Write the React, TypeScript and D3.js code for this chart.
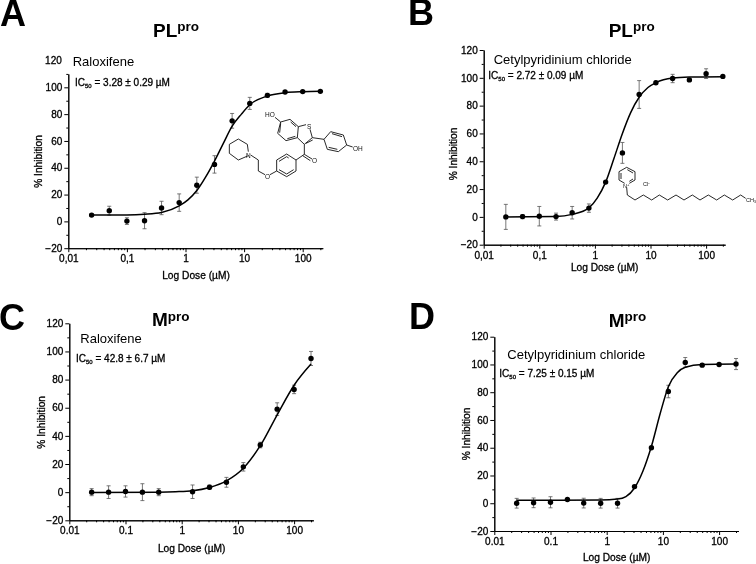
import React, { useEffect, useRef } from "react";
import * as d3 from "d3";

// doses used in the assay (uM)
const doses = [0.025, 0.05, 0.1, 0.2, 0.39, 0.78, 1.56, 3.125, 6.25, 12.5, 25, 50, 100, 200];
const dosesC = [0.025, 0.05, 0.1, 0.2, 0.39, 1.56, 3.125, 6.25, 12.5, 25, 50, 100, 200];

const valuesA = [4.7, 8, 0.2, 0.5, 10, 14, 27, 42.5, 75, 88, 94, 96.5, 96.8, 97];
const errorsA = [1, 3.3, 2.5, 6, 5, 6.5, 6, 6.5, 5.5, 4.5, 1.5, 1, 0.5, 0.5];
const valuesB = [0, 0.2, 0.5, 0.2, 3, 6.3, 25, 46, 88, 96.5, 99.5, 98.5, 103, 101];
const errorsB = [9, 1.5, 7, 2.5, 4.5, 3, 0.5, 7.5, 10, 1, 3, 1, 3.5, 0.5];
const valuesC = [0, 0, 0.5, 0, 0, 0.3, 3.5, 7, 18, 33.5, 59, 73, 95];
const errorsC = [2.5, 4.5, 4, 6, 2.5, 4.8, 1.5, 3.5, 3, 2, 4.5, 3, 5];
const valuesD = [0, 0.3, 0.7, 2.7, 0.1, 0, 0, 12, 40, 80.5, 101.5, 99.5, 100, 100.3];
const errorsD = [3.5, 3.5, 4, 0.5, 3.5, 3.5, 3.5, 1, 0.5, 4.5, 3.5, 1, 0.5, 4];

// fitted curves
const fitDoseA = [0.025, 0.1, 0.2, 0.39, 0.78, 1.1, 1.56, 2.2, 3.125, 4.4, 6.25, 9, 12.5, 25, 50, 100, 200];
const fitA = [4.7, 4.8, 5.3, 6.6, 11.5, 16, 23, 33, 45, 58, 71, 80, 87, 93.5, 96, 96.7, 97];
const fitDoseB = [0.025, 0.2, 0.39, 0.78, 1.1, 1.56, 2.2, 3.125, 4.4, 6.25, 9, 12.5, 25, 50, 200];
const fitB = [0, 0.3, 1.8, 6.5, 13.5, 25, 42, 60, 75, 86, 93, 96.5, 99.8, 100.5, 100.8];
const fitDoseC = [0.025, 0.39, 0.78, 1.56, 3.125, 6.25, 12.5, 25, 50, 100, 200];
const fitC = [-0.2, 0, 0.3, 1, 3.3, 8, 17, 33, 55, 76, 91];
const fitDoseD = [0.025, 0.78, 1.56, 2.2, 3.125, 4.4, 6.25, 9, 12.5, 18, 25, 50, 200];
const fitD = [2.2, 2.3, 3, 4.8, 11, 23, 41, 65, 84, 94, 98, 100, 100.3];

const yTicks = [-20, 0, 20, 40, 60, 80, 100, 120];
const yMinorTicks = [-10, 10, 30, 50, 70, 90, 110];
const xTicks = [0.01, 0.1, 1, 10, 100];
const xLabelsComma = ["0,01", "0,1", "1", "10", "100"];
const xLabelsDot = ["0.01", "0.1", "1", "10", "100"];
const xMinorTicks = d3.range(-2, 3).flatMap((e) => [2, 3, 4, 5, 6, 7, 8, 9].map((m) => m * 10 ** e)).filter((d) => d <= 200);

const sans = "'Liberation Sans', Arial, sans-serif";

// raloxifene drawing, in zoomed pixels (3x)
const raloxifeneBonds = [
  [[115, 197], [85, 210], [58, 190], [58, 163], [85, 147], [112, 163], [115, 185]],
  [[122, 195], [145, 210], [145, 243], [165, 254]],
  [[180, 254], [200, 243], [200, 210], [230, 192], [258, 210], [258, 243], [230, 260], [200, 243]],
  [[207, 239], [230, 252], [251, 239]],
  [[207, 214], [230, 200], [236, 204]],
  [[258, 210], [283, 193], [283, 163], [307, 143], [300, 118]],
  [[283, 193], [306, 207]],
  [[278, 197], [301, 212]],
  [[288, 160], [308, 150]],
  [[283, 163], [262, 143], [265, 110], [288, 104]],
  [[265, 110], [240, 88], [212, 96], [203, 130], [228, 152], [262, 143]],
  [[212, 100], [209, 128]],
  [[232, 146], [256, 139]],
  [[242, 96], [258, 110]],
  [[212, 96], [195, 82]],
  [[307, 143], [342, 148], [362, 125], [400, 135], [410, 165], [385, 185], [352, 178], [342, 148]],
  [[366, 131], [396, 140]],
  [[382, 178], [356, 172]],
  [[410, 165], [428, 171]],
];
// cetylpyridinium drawing, in zoomed pixels (3x)
const cetylBonds = [
  [[74, 100], [57, 90], [57, 65], [80, 52], [105, 65], [105, 90], [88, 100]],
  [[63, 87], [63, 69]],
  [[82, 59], [99, 69]],
  [[99, 87], [88, 94]],
  [[80, 112], [82, 135], [105, 150], [130, 135], [155, 150], [178, 135], [203, 150], [228, 135], [252, 150], [277, 135], [300, 150], [325, 135], [350, 150], [373, 135], [398, 150], [422, 135], [437, 145]],
];

type PanelProps = {
  letter: string; letterX: number; letterY: number;
  enzyme: string; titleX: number; titleY: number;
  compound: string; compoundX: number; compoundY: number;
  ic50: string; icX: number; icY: number;
  left: number; decade: number; bottom: number; top: number; yAxisMax: number;
  xDoses: number[]; values: number[]; errors: number[]; fitDose: number[]; fit: number[];
  xLabels: string[];
  xTitleX: number; xTitleY: number; yTitleX: number; yTitleY: number;
};

function Panel(p: PanelProps) {
  const axisX = useRef<SVGGElement>(null);
  const axisXMinor = useRef<SVGGElement>(null);
  const axisY = useRef<SVGGElement>(null);
  const axisYMinor = useRef<SVGGElement>(null);

  const x = d3.scaleLog().domain([0.01, 220]).range([p.left, p.left + p.decade * Math.log10(220 / 0.01)]);
  const y = d3.scaleLinear().domain([-20, 120]).range([p.bottom, p.top]);
  const yShown = y.copy().domain([-20, p.yAxisMax]).range([y(-20), y(p.yAxisMax)]);
  const fitLine = d3.line<number>().x((d) => x(d)).y((_, i) => y(p.fit[i])).curve(d3.curveMonotoneX);

  useEffect(() => {
    d3.select(axisX.current!).call(
      d3.axisBottom(x).tickValues(xTicks).tickFormat((_, i) => p.xLabels[i]).tickSize(4).tickSizeOuter(0).tickPadding(3) as any
    );
    d3.select(axisXMinor.current!).call(
      d3.axisBottom(x).tickValues(xMinorTicks).tickFormat(() => "").tickSize(2).tickSizeOuter(0) as any
    );
    d3.select(axisY.current!).call(
      d3.axisLeft(yShown).tickValues(yTicks.filter((d) => d <= p.yAxisMax)).tickSize(4).tickSizeOuter(0).tickPadding(2) as any
    );
    d3.select(axisYMinor.current!).call(
      d3.axisLeft(yShown).tickValues(yMinorTicks.filter((d) => d <= p.yAxisMax)).tickFormat(() => "").tickSize(2).tickSizeOuter(0) as any
    );
    [axisX, axisY].forEach((r) => {
      d3.select(r.current!).selectAll("text")
        .attr("font-family", sans).attr("font-size", 10).attr("fill", "#000")
        .attr("stroke", "#000").attr("stroke-width", 0.3);
    });
  }, []);

  return (
    <g>
      <text x={p.letterX} y={p.letterY} fontFamily={sans} fontWeight="bold" fontSize={36}>{p.letter}</text>
      <text x={p.titleX} y={p.titleY} fontFamily={sans} fontWeight="bold" fontSize={19}>
        {p.enzyme}<tspan fontSize={13.5} dy={-5.5}>pro</tspan>
      </text>
      <text x={p.compoundX} y={p.compoundY} fontFamily={sans} fontSize={13}>{p.compound}</text>
      <text x={p.icX} y={p.icY} fontFamily={sans} fontSize={10} stroke="#000" strokeWidth={0.3}>
        IC<tspan fontSize={6} dy={2}>50</tspan><tspan dy={-2}> = {p.ic50}</tspan>
      </text>
      <g transform={`translate(0,${p.bottom})`} ref={axisX} />
      <g transform={`translate(0,${p.bottom})`} ref={axisXMinor} />
      <g transform={`translate(${p.left},0)`} ref={axisY} />
      <g transform={`translate(${p.left},0)`} ref={axisYMinor} />
      {p.yAxisMax < 120 && (
        <text x={p.left - 6.5} y={y(120)} dy="0.32em" textAnchor="end" fontFamily={sans} fontSize={10} stroke="#000" strokeWidth={0.3}>120</text>
      )}
      <text x={p.xTitleX} y={p.xTitleY} textAnchor="middle" fontFamily={sans} fontSize={10.2} stroke="#000" strokeWidth={0.3}>Log Dose (µM)</text>
      <text transform={`translate(${p.yTitleX},${p.yTitleY}) rotate(-90)`} dy="0.35em" textAnchor="middle" fontFamily={sans} fontSize={10.2} stroke="#000" strokeWidth={0.3}>% Inhibition</text>
      {p.xDoses.map((d, i) => (
        <g key={i} stroke="#555" strokeWidth={0.8}>
          <line x1={x(d)} x2={x(d)} y1={y(p.values[i] - p.errors[i])} y2={y(p.values[i] + p.errors[i])} />
          <line x1={x(d) - 2} x2={x(d) + 2} y1={y(p.values[i] - p.errors[i])} y2={y(p.values[i] - p.errors[i])} />
          <line x1={x(d) - 2} x2={x(d) + 2} y1={y(p.values[i] + p.errors[i])} y2={y(p.values[i] + p.errors[i])} />
        </g>
      ))}
      <path d={fitLine(p.fitDose) || ""} fill="none" stroke="#000" strokeWidth={1.5} />
      {p.xDoses.map((d, i) => (
        <circle key={i} cx={x(d)} cy={y(p.values[i])} r={2.7} fill="#000" />
      ))}
    </g>
  );
}

function Bonds({ bonds, ox, oy }: { bonds: number[][][]; ox: number; oy: number }) {
  const path = d3.line();
  return (
    <g transform={`translate(${ox},${oy}) scale(${1 / 3})`} fill="none" stroke="#111" strokeWidth={2.7}>
      {bonds.map((b, i) => (
        <path key={i} d={path(b as [number, number][]) || ""} />
      ))}
    </g>
  );
}

export default function App() {
  return (
    <svg width={756} height={564} style={{ position: "absolute", left: 0, top: 0, background: "#fff" }}>
      <defs>
        <filter id="soft" x="0" y="0" width="100%" height="100%">
          <feGaussianBlur stdDeviation="0.4" />
        </filter>
      </defs>
      <g filter="url(#soft)">
        <rect width={756} height={564} fill="#fff" />
        <Panel letter="A" letterX={0} letterY={26} enzyme="PL" titleX={153} titleY={36.5}
          compound="Raloxifene" compoundX={72.7} compoundY={66} ic50="3.28 ± 0.29 µM" icX={75} icY={85.5}
          left={68.3} decade={58.6} bottom={248.2} top={60.5} yAxisMax={110}
          xDoses={doses} values={valuesA} errors={errorsA} fitDose={fitDoseA} fit={fitA} xLabels={xLabelsComma}
          xTitleX={196} xTitleY={279} yTitleX={38} yTitleY={161.5} />
        <Panel letter="B" letterX={408} letterY={25} enzyme="PL" titleX={608.7} titleY={36.5}
          compound="Cetylpyridinium chloride" compoundX={493.7} compoundY={63.5} ic50="2.72 ± 0.09 µM" icX={488.3} icY={78.5}
          left={483.7} decade={55.6} bottom={244.7} top={50} yAxisMax={120}
          xDoses={doses} values={valuesB} errors={errorsB} fitDose={fitDoseB} fit={fitB} xLabels={xLabelsComma}
          xTitleX={604.7} xTitleY={270.5} yTitleX={453.5} yTitleY={154} />
        <Panel letter="C" letterX={-1} letterY={330} enzyme="M" titleX={152} titleY={326}
          compound="Raloxifene" compoundX={80.3} compoundY={343} ic50="42.8 ± 6.7 µM" icX={76} icY={362}
          left={69.3} decade={56.2} bottom={520.3} top={323.3} yAxisMax={120}
          xDoses={dosesC} values={valuesC} errors={errorsC} fitDose={fitDoseC} fit={fitC} xLabels={xLabelsDot}
          xTitleX={191.7} xTitleY={551.5} yTitleX={41.5} yTitleY={422.3} />
        <Panel letter="D" letterX={409} letterY={329} enzyme="M" titleX={608.7} titleY={326.5}
          compound="Cetylpyridinium chloride" compoundX={507.3} compoundY={358.5} ic50="7.25 ± 0.15 µM" icX={499.3} icY={376.5}
          left={494.3} decade={56.2} bottom={531} top={336.7} yAxisMax={120}
          xDoses={doses} values={valuesD} errors={errorsD} fitDose={fitDoseD} fit={fitD} xLabels={xLabelsDot}
          xTitleX={616.7} xTitleY={561} yTitleX={466.3} yTitleY={434} />

        <Bonds bonds={raloxifeneBonds} ox={210} oy={90} />
        <g fontFamily={sans} fontSize={6.5} fill="#111">
          <text x={265} y={117}>HO</text>
          <text x={307} y={128.5}>S</text>
          <text x={353} y={150.5}>OH</text>
          <text x={312} y={162.5}>O</text>
          <text x={265} y={178.5}>O</text>
          <text x={246} y={157.5}>N</text>
        </g>
        <Bonds bonds={cetylBonds} ox={600} oy={150} />
        <g fontFamily={sans} fontSize={5.5} fill="#111">
          <text x={623} y={188}>N<tspan fontSize={4} dy={-2}>+</tspan></text>
          <text x={643} y={186}>Cl<tspan fontSize={4} dy={-2}>-</tspan></text>
          <text x={746} y={202}>CH<tspan fontSize={3.5} dy={1}>3</tspan></text>
        </g>
      </g>
    </svg>
  );
}
